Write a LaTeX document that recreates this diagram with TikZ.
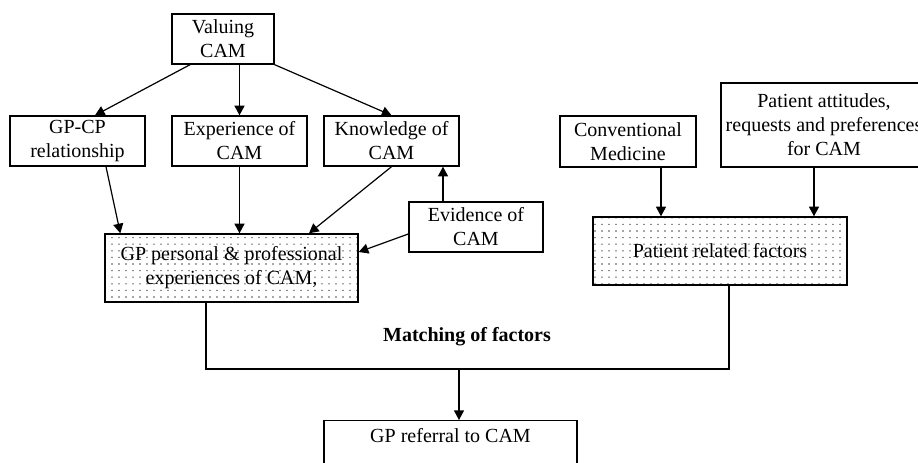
\documentclass[tikz,border=0pt]{standalone}
\usepackage{fontspec}
\setmainfont{Liberation Serif}
\usetikzlibrary{arrows.meta,patterns}

\pgfdeclarepatternformonly{sparsedots}{\pgfqpoint{-1pt}{-1pt}}{\pgfqpoint{1pt}{1pt}}{\pgfqpoint{3.5pt}{3.3pt}}{
  \pgfpathcircle{\pgfqpoint{0pt}{0pt}}{0.38pt}
  \pgfusepath{fill}
}

\tikzset{
          box/.style = {draw = black, line width = 0.7pt, rectangle, align = center, inner sep = 2pt, font = \fontsize{10}{12}\selectfont},
          dotbox/.style = {box, pattern = sparsedots, pattern color = black!70},
          arr/.style = {draw = black, line width = 0.6pt, -{Triangle[length=4.8pt,width=5pt]}},
          wire/.style = {draw = black, line width = 0.6pt}
        }

\begin{document}
\begin{tikzpicture}[x=0.5pt,y=-0.5pt]
          \useasboundingbox (0,0) rectangle (918,462);

          % top row
          \node[box, minimum width=51pt, minimum height=25pt] (valuing) at (223,39) {Valuing\\CAM};
          \node[box, minimum width=67.5pt, minimum height=25pt] (gpcp) at (77.5,141) {GP-CP\\relationship};
          \node[box, minimum width=67.5pt, minimum height=25pt] (exper) at (239.5,141) {Experience of\\CAM};
          \node[box, minimum width=67.5pt, minimum height=25pt] (knowl) at (391.5,141) {Knowledge of\\CAM};
          \node[box, minimum width=67pt, minimum height=25pt] (evid) at (476,227) {Evidence of\\CAM};
          \node[box, minimum width=68pt, minimum height=25.5pt] (conv) at (628,141.5) {Conventional\\Medicine};
          \node[box, minimum width=103pt, minimum height=42pt] (patatt) at (824,125) {Patient attitudes,\\requests and preferences\\for CAM};

          % shaded boxes
          \node[dotbox, minimum width=126.5pt, minimum height=34pt] (gppers) at (231.5,268) {GP personal \& professional\\experiences of CAM,};
          \node[dotbox, minimum width=127pt, minimum height=34pt] (patrel) at (720,251) {Patient related factors};

          \node[font=\fontsize{10}{12}\selectfont\bfseries] (match) at (467,337) {Matching of factors};
          \node[box, anchor=north, minimum width=126.5pt, inner ysep=4pt, text depth=22pt] (gpref) at (450.5,420) {GP referral to CAM};

          % arrows
          \draw[arr] ([xshift=-16.5pt]valuing.south) -- ([xshift=8.75pt]gpcp.north);
          \draw[arr] (valuing.south -| exper.north) -- (exper.north);
          \draw[arr] (valuing.south east) -- (knowl.north);

          \draw[arr] ([xshift=14.25pt]gpcp.south) -- ([xshift=8pt]gppers.north west);
          \draw[arr] (exper.south) -- (exper.south |- gppers.north);
          \draw[arr] (knowl.south) -- ([xshift=38.75pt]gppers.north);
          \draw[arr] ([yshift=-3.5pt]evid.west) -- ([yshift=8pt]gppers.east);
          \coordinate (evk) at ([xshift=25.75pt]knowl.south);
          \draw[arr] (evk |- evid.north) -- (evk);

          \coordinate (cvp) at ([xshift=16.5pt]conv.south);
          \draw[arr] (cvp) -- (cvp |- patrel.north);
          \coordinate (pap) at ([xshift=-5pt]patatt.south);
          \draw[arr] (pap) -- (pap |- patrel.north);

          % matching
          \coordinate (lj) at (206,369);
          \coordinate (rj) at (729,369);
          \coordinate (mj) at (459,369);
          \draw[wire] (gppers.south -| lj) -- (lj) -- (rj) -- (patrel.south -| rj);
          \draw[arr] (mj) -- (mj |- gpref.north);
        \end{tikzpicture}
\end{document}
